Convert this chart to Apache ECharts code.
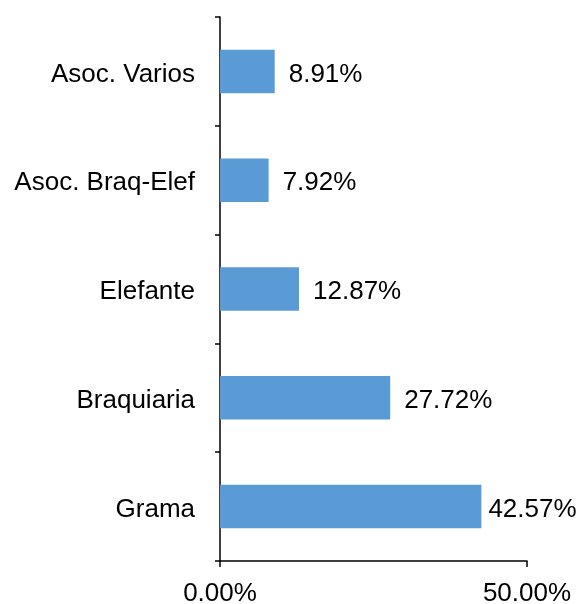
<!DOCTYPE html>
<html><head><meta charset="utf-8">
<script src="https://cdn.jsdelivr.net/npm/echarts@6/dist/echarts.min.js"></script>
<style>html,body{margin:0;padding:0;background:#fff}#c{width:581px;height:604px}</style>
</head><body><div id="c"></div>
<script>
const categories = ["Grama", "Braquiaria", "Elefante", "Asoc. Braq-Elef", "Asoc. Varios"];
const values = [42.57, 27.72, 12.87, 7.92, 8.91];
const xTicks = [0, 50];

const barData = values.map((v, i) => i === 0 ? {value: v, label: {distance: 7}} : v);

const chart = echarts.init(document.getElementById('c'));
chart.setOption({
  animation: false,
  grid: {left: 220, right: 54, top: 17, bottom: 43, containLabel: false, outerBoundsMode: 'none'},
  xAxis: {
    type: 'value', min: xTicks[0], max: xTicks[xTicks.length-1], interval: 50,
    axisLine: {show: true, lineStyle: {color: '#000', width: 1.5}},
    axisTick: {show: true, length: 6, lineStyle: {color: '#000', width: 1.5}},
    splitLine: {show: false},
    axisLabel: {color: '#000', fontFamily: 'Liberation Sans', fontSize: 26, margin: 20,
      formatter: v => v.toFixed(2) + '%'}
  },
  yAxis: {
    type: 'category', data: categories,
    axisLine: {show: true, lineStyle: {color: '#000', width: 1.5}},
    axisTick: {show: true, length: 5, lineStyle: {color: '#000', width: 1.5}},
    axisLabel: {color: '#000', fontFamily: 'Liberation Sans', fontSize: 26, margin: 25,
      formatter: v => '{a|' + v + '}',
      rich: {a: {color: '#000', fontFamily: 'Liberation Sans', fontSize: 26, padding: [6, 0, 0, 0]}}}
  },
  series: [{
    type: 'bar', data: barData, barCategoryGap: '60%',
    itemStyle: {color: '#5B9BD5'},
    label: {show: true, position: 'right', distance: 14, color: '#000',
      fontFamily: 'Liberation Sans', fontSize: 26, offset: [0, 3],
      formatter: p => p.value.toFixed(2) + '%'}
  }]
});
</script></body></html>
